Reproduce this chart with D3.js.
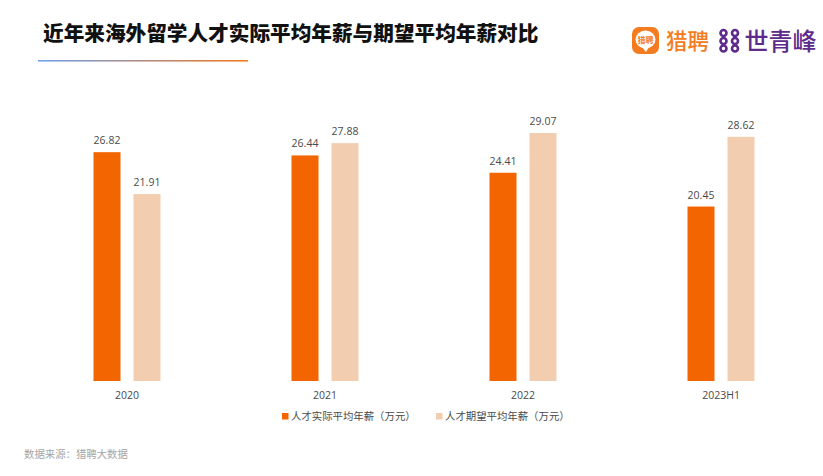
<!DOCTYPE html>
<html><head><meta charset="utf-8">
<script src="https://cdn.jsdelivr.net/npm/d3@7"></script>
<style>html,body{margin:0;padding:0;background:#fff}svg{display:block}text{font-family:"Noto Sans CJK SC","Noto Sans",sans-serif}</style>
</head><body><div id="c"></div>
<script>
const categories=["2020","2021","2022","2023H1"];
const actual=[26.82,26.44,24.41,20.45];
const expected=[21.91,27.88,29.07,28.62];
const seriesNames=["人才实际平均年薪（万元）","人才期望平均年薪（万元）"];
const colors=["#F26500","#F3CDB0"];
const titleText="近年来海外留学人才实际平均年薪与期望平均年薪对比";
const sourceText="数据来源：猎聘大数据";

const W=823,H=476;
const svg=d3.select("#c").append("svg").attr("width",W).attr("height",H);
const defs=svg.append("defs");
const g=defs.append("linearGradient").attr("id","ul");
g.append("stop").attr("offset","0").attr("stop-color","#6FA3EE");
g.append("stop").attr("offset","1").attr("stop-color","#F47B20");

svg.append("text").attr("x",43).attr("y",41).attr("font-size",20.65).attr("font-weight",900).attr("fill","#111").text(titleText);
svg.append("rect").attr("x",38).attr("y",60).attr("width",210).attr("height",1.6).attr("fill","url(#ul)");

const x=d3.scaleBand().domain(categories).range([28,820]);
const y=d3.scaleLinear().domain([0,29.07]).range([381,133]);
const barW=27,gap=13;
const offs=[-gap/2-barW,gap/2];
[actual,expected].forEach((vals,s)=>{
  const gs=svg.append("g");
  gs.selectAll("rect").data(vals).join("rect")
    .attr("x",(d,i)=>x(categories[i])+x.bandwidth()/2+offs[s])
    .attr("y",d=>y(d)).attr("width",barW).attr("height",d=>y(0)-y(d)).attr("fill",colors[s]);
  gs.selectAll("text").data(vals).join("text")
    .attr("x",(d,i)=>x(categories[i])+x.bandwidth()/2+offs[s]+barW/2)
    .attr("y",d=>y(d)-8).attr("text-anchor","middle").attr("font-size",10.5).attr("fill","#4a4a4a")
    .style("font-family","'Open Sans',sans-serif").text(d=>d.toFixed(2));
});
const axis=d3.axisBottom(x).tickSize(0).tickPadding(0);
const ax=svg.append("g").attr("transform","translate(0,392)").call(axis);
ax.select(".domain").remove();
ax.selectAll("text").attr("font-size",10.5).attr("fill","#4a4a4a").attr("dy","0.71em").style("font-family","'Open Sans',sans-serif");

const legendX=[282,436];
seriesNames.forEach((n,i)=>{
  svg.append("rect").attr("x",legendX[i]).attr("y",413).attr("width",6.5).attr("height",6.5).attr("fill",colors[i]);
  svg.append("text").attr("x",legendX[i]+9).attr("y",420).attr("font-size",10.4).attr("fill","#4a4a4a").text(n);
});
svg.append("text").attr("x",24).attr("y",457.5).attr("font-size",10.4).attr("fill","#a6a6a6").text(sourceText);

// logos
const lg=svg.append("g");
lg.append("rect").attr("x",632).attr("y",27).attr("width",27).attr("height",27).attr("rx",7).attr("fill","#F47B20");
lg.append("ellipse").attr("cx",645.5).attr("cy",39.5).attr("rx",10).attr("ry",9).attr("fill","#fff");
lg.append("path").attr("d","M642 47l4 5 3-5z").attr("fill","#fff");
lg.append("text").attr("x",645.5).attr("y",43).attr("text-anchor","middle").attr("font-size",8).attr("font-weight",700).attr("fill","#F47B20").text("猎聘");
lg.append("text").attr("x",666).attr("y",49).attr("font-size",21.5).attr("font-weight",500).attr("fill","#F47B20").text("猎聘");
const knots=[[723.5,33],[735,33],[723.5,41],[735,41],[723.5,48.5],[735,48.5]];
lg.selectAll("circle").data(knots).join("circle").attr("cx",d=>d[0]).attr("cy",d=>d[1])
  .attr("r",3).attr("fill","none").attr("stroke","#5E2B8C").attr("stroke-width",2.6);
lg.append("text").attr("x",744.5).attr("y",49.5).attr("font-size",24).attr("font-weight",500).attr("fill","#5E2B8C").text("世青峰");
</script></body></html>
